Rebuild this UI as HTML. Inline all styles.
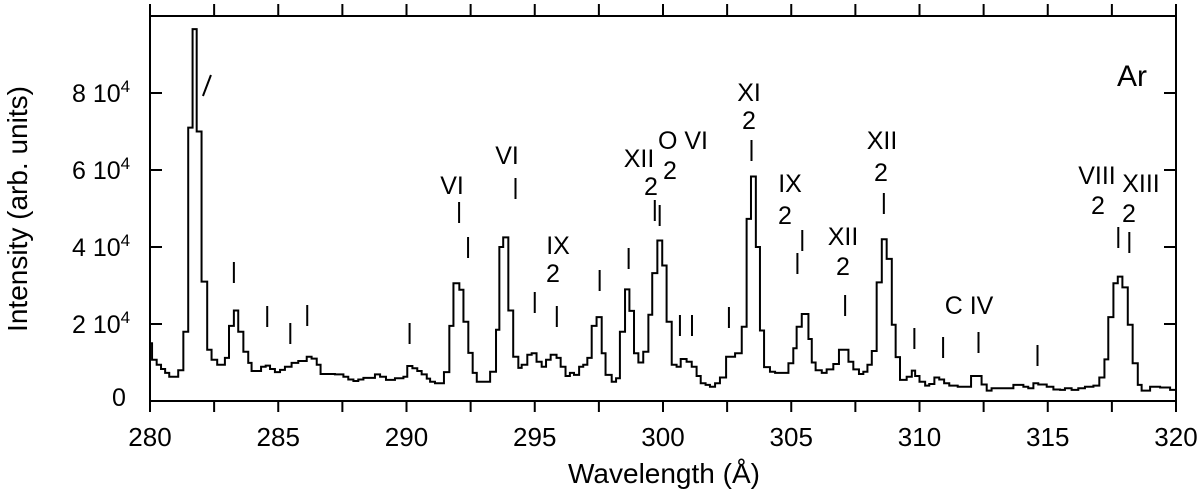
<!DOCTYPE html>
<html><head><meta charset="utf-8"><style>
body{margin:0;background:#fff}
svg text{font-family:"Liberation Sans",Arial,sans-serif;fill:#000}
</style></head><body>
<svg id="chart" width="1200" height="497" viewBox="0 0 1200 497" xmlns="http://www.w3.org/2000/svg">
<g id="frame"></g>
<g id="ticks"></g>
<g id="marks"></g>
<path id="spec" fill="none" stroke="#000" stroke-width="2"/>
<text x="1117" y="86" font-size="30">Ar</text>
<text x="664" y="483" font-size="28" text-anchor="middle">Wavelength (Å)</text>
<text transform="translate(27,209) rotate(-90)" font-size="28" text-anchor="middle">Intensity (arb. units)</text>
</svg>
<script>
const wavelengths=[280.00,280.08,280.26,280.43,280.59,280.75,281.10,281.30,281.49,281.66,281.82,282.01,282.23,282.40,282.62,282.92,283.08,283.27,283.44,283.64,283.83,283.96,284.33,284.51,284.68,284.87,285.07,285.26,285.52,285.78,286.11,286.30,286.50,286.65,287.21,287.54,287.73,287.93,288.12,288.32,288.77,288.97,289.20,289.55,289.88,290.03,290.23,290.42,290.59,290.79,290.92,291.11,291.46,291.67,291.83,292.06,292.22,292.41,292.58,292.74,293.26,293.49,293.62,293.77,293.97,294.16,294.36,294.49,294.71,294.88,295.07,295.27,295.44,295.62,295.85,296.01,296.20,296.37,296.53,296.73,296.89,297.05,297.22,297.41,297.61,297.76,298.00,298.17,298.32,298.52,298.69,298.87,299.04,299.23,299.43,299.58,299.78,299.97,300.14,300.34,300.53,300.69,300.92,301.12,301.31,301.47,301.66,301.83,302.03,302.22,302.46,302.81,303.07,303.26,303.43,303.62,303.78,303.94,304.17,304.37,304.89,305.08,305.21,305.41,305.67,305.80,305.95,306.19,306.38,306.64,306.86,307.23,307.42,307.64,307.81,307.97,308.14,308.33,308.53,308.72,308.92,309.07,309.24,309.50,309.70,309.83,310.00,310.22,310.38,310.58,310.77,310.96,311.16,311.49,312.01,312.42,312.62,312.81,313.66,314.05,314.24,314.44,314.63,314.96,315.22,315.48,315.67,315.93,316.19,316.45,316.78,317.01,317.21,317.36,317.56,317.73,317.91,318.12,318.31,318.51,318.66,318.99,319.38,319.77];
const intensity=[15,10.7,9.4,8.3,7.3,6.3,8.0,18,71,96.6,70,31,13.3,10.7,9.4,11.2,19.5,23.5,18,12.8,9.9,7.8,8.9,9.2,8.3,7.5,8.1,8.9,9.9,10.4,11.5,11,9.4,7,6.9,6.3,5.6,5.2,5.6,6.0,6.9,6.3,5.5,5.9,6.3,9.1,8.5,7.8,6.9,5.8,5.0,4.6,7.5,19.5,30.6,28.9,20.6,12.5,7.3,5,7.6,18.5,40,42.5,23.5,11.5,8.6,9.4,12,12.4,10.2,8.9,10.7,12,11.2,8.9,6.5,7.3,6.8,8.9,9.4,11.2,19.5,21.8,12.4,6.8,5,5.9,18,29,23.4,12.4,10,12.8,22.4,33.2,41.7,35.2,20.6,9.4,8.9,10.9,10.2,8.9,6.5,4.6,4.2,3.7,4.6,6.1,11.5,12.4,19.3,47.3,58.3,40,18.3,8.8,7.6,7.3,9.8,13.7,19.3,22.6,16.1,10,8,7.3,8.2,9.6,13.3,10.2,8.2,7,7.6,9.4,13,30.8,42,36.9,19.8,11.4,5.5,6.3,7.9,6.5,5,4,4.4,6.1,5.6,4.6,4,3.7,6.5,4.3,2.7,3.3,4.2,3.7,3.3,4.6,4.3,3.7,3,2.9,3.3,2.9,3.3,3.7,4,6.1,10.8,21.8,30.6,32.3,29.5,19.8,9.8,4.2,2.7,3.7,3.5,2.9];
const xTickValues=[280,285,290,295,300,305,310,315,320];
const yTickValues=[0,2,4,6,8];
const yTickLabels=["0","2 10","4 10","6 10","8 10"];
const markerX=[282.22,283.27,284.57,285.47,286.13,290.12,292.05,292.4,294.25,295.0,295.86,297.53,298.66,299.68,299.87,300.66,301.13,302.57,303.45,305.24,305.43,307.1,308.61,309.8,310.92,312.3,314.6,317.75,318.18];
const markerTop=[75,262,306,323,305,323,202,237,178,292,306,270,248,200,205,315,315,307,140,253,230,295,193,328,337,332,345,227,232];
const NS="http://www.w3.org/2000/svg";
const X0=150,X1=1176,Y0=401,Y1=16,XMIN=280,XMAX=320,YMAX=100;
const xs=v=>X0+(v-XMIN)/(XMAX-XMIN)*(X1-X0);
const ys=v=>Y0-v/YMAX*(Y0-Y1);
function mk(tag,parent){const e=document.createElementNS(NS,tag);parent.appendChild(e);return e;}
const frame=document.getElementById('frame');
const r=mk('rect',frame);


r.setAttribute('x',X0);r.setAttribute('y',Y1);r.setAttribute('width',X1-X0);r.setAttribute('height',Y0-Y1);
r.setAttribute('fill','none');r.setAttribute('stroke','#000');r.setAttribute('stroke-width','2');
const tg=document.getElementById('ticks');
for(let v=XMIN;v<=XMAX;v+=2.5){
  const x=xs(v);
  const b=mk('line',tg);
  
  
  b.setAttribute('x1',x);b.setAttribute('x2',x);b.setAttribute('y1',Y0);b.setAttribute('y2',Y0+11);b.setAttribute('stroke','#000');b.setAttribute('stroke-width','2');
  const t=mk('line',tg);
  
  
  t.setAttribute('x1',x);t.setAttribute('x2',x);t.setAttribute('y1',Y1);t.setAttribute('y2',Y1-12);t.setAttribute('stroke','#000');t.setAttribute('stroke-width','2');
}
xTickValues.forEach(v=>{
  const t=mk('text',tg);
  
  
  t.setAttribute('x',xs(v));t.setAttribute('y',446);t.setAttribute('font-size','26');t.setAttribute('text-anchor','middle');
  t.textContent=v;
});
yTickValues.forEach((v,i)=>{
  const y=ys(v*10);
  [[X0,X0+12],[X1,X1-12]].forEach(p=>{
    const l=mk('line',tg);
    
    
    l.setAttribute('x1',p[0]);l.setAttribute('x2',p[1]);l.setAttribute('y1',y);l.setAttribute('y2',y);l.setAttribute('stroke','#000');l.setAttribute('stroke-width','2');
  });
  const t=mk('text',tg);
  
  
  t.setAttribute('x',v===0?112:72);t.setAttribute('y',v===0?y+5:y+9);t.setAttribute('font-size','25');
  t.textContent=yTickLabels[i];
  if(v!==0){const s=mk('tspan',t);s.setAttribute('dy','-10');s.setAttribute('font-size','17');s.textContent='4';}
});
let d='M'+xs(wavelengths[0])+','+ys(intensity[0]);
for(let i=0;i<intensity.length;i++){
  const xe=xs(i+1<wavelengths.length?wavelengths[i+1]:XMAX);
  if(i>0)d+=' V'+ys(intensity[i]);
  d+=' H'+xe;
}
document.getElementById('spec').setAttribute('d',d);
const mg=document.getElementById('marks');
markerX.forEach((w,i)=>{
  const l=mk('line',mg);
  
  
  const x=xs(w),y=markerTop[i];
  if(i===0){l.setAttribute('x1',x+4);l.setAttribute('x2',x-4);}else{l.setAttribute('x1',x);l.setAttribute('x2',x);}
  l.setAttribute('y1',y);l.setAttribute('y2',y+21);l.setAttribute('stroke','#000');l.setAttribute('stroke-width','2');
});
const labels=[["VI",452,194],["VI",507,164],["IX",558,254],["2",553,282],["XII",639,167],["2",651,195],["O VI",683,149],["2",670,179],["XI",749,101],["2",749,129],["IX",790,192],["2",785,224],["XII",843,245],["2",843,275],["XII",882,149],["2",881,181],["C IV",969,314],["VIII",1097,184],["2",1098,214],["XIII",1141,192],["2",1129,222]];
labels.forEach(a=>{
  const t=mk('text',mg);
  
  
  t.setAttribute('x',a[1]);t.setAttribute('y',a[2]);t.setAttribute('font-size','25');t.setAttribute('text-anchor','middle');
  t.textContent=a[0];
});
</script>
</body></html>
